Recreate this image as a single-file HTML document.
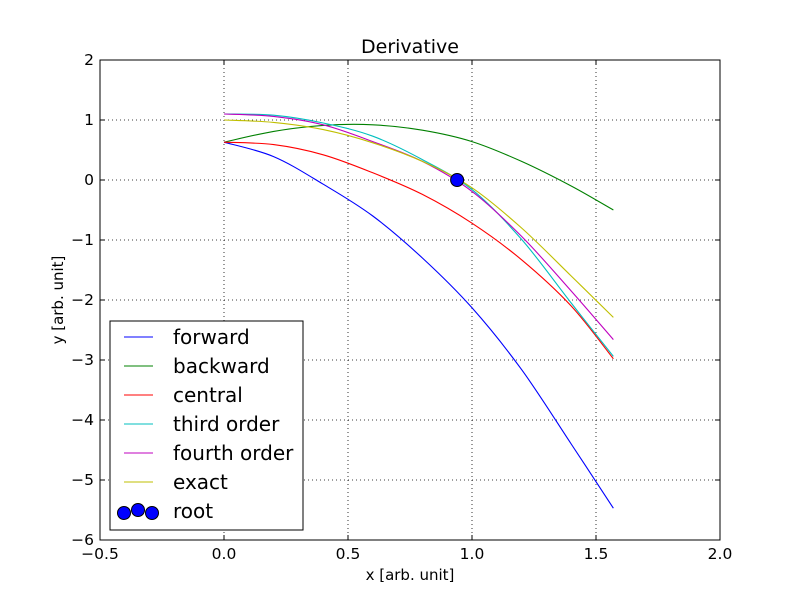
<!DOCTYPE html>
<html><head><meta charset="utf-8"><style>
body{margin:0;background:#fff}
svg text{font-family:"DejaVu Sans","Liberation Sans",sans-serif}
</style></head><body>
<svg id="chart" width="800" height="600" viewBox="0 0 800 600">
<rect width="800" height="600" fill="#fff"/>
<g id="grid"></g>
<g id="series"></g>
<rect x="100" y="60" width="620" height="480" fill="none" stroke="#000" stroke-width="1"/>
<g id="ticks"></g>
<text x="410" y="53" font-size="19" text-anchor="middle">Derivative</text>
<text x="410" y="580" font-size="15" text-anchor="middle">x [arb. unit]</text>
<text x="63" y="300" font-size="15" text-anchor="middle" transform="rotate(-90 63 300)">y [arb. unit]</text>
<g id="legend"></g>
</svg>
<script>
const xs = [0, 0.2, 0.4, 0.6, 0.8, 1.0, 1.2, 1.4, 1.57];
const forward = [0.63, 0.39, -0.07, -0.6, -1.3, -2.13, -3.16, -4.4, -5.47];
const backward = [0.63, 0.81, 0.91, 0.92, 0.83, 0.64, 0.31, -0.1, -0.5];
const central = [0.63, 0.59, 0.42, 0.12, -0.24, -0.72, -1.33, -2.1, -2.98];
const third = [1.1, 1.08, 0.95, 0.73, 0.34, -0.16, -0.99, -2.05, -2.94];
const fourth = [1.1, 1.06, 0.92, 0.64, 0.31, -0.19, -0.94, -1.85, -2.66];
const exact = [1.0, 0.96, 0.84, 0.62, 0.31, -0.13, -0.8, -1.6, -2.29];
const rootX = [0.94];
const rootY = [0.0];
const xTicks = [-0.5, 0.0, 0.5, 1.0, 1.5, 2.0];
const xTickLabels = ["−0.5", "0.0", "0.5", "1.0", "1.5", "2.0"];
const yTicks = [-6, -5, -4, -3, -2, -1, 0, 1, 2];
const yTickLabels = ["−6", "−5", "−4", "−3", "−2", "−1", "0", "1", "2"];
const seriesNames = ["forward", "backward", "central", "third order", "fourth order", "exact"];
const seriesColors = ["#0000ff", "#008000", "#ff0000", "#00bfbf", "#bf00bf", "#bfbf00"];
const seriesData = [forward, backward, central, third, fourth, exact];

const NS = "http://www.w3.org/2000/svg";
const X = v => 100 + (v + 0.5) / 2.5 * 620;
const Y = v => 540 - (v + 6) / 8 * 480;
function mk(tag, attrs, parent) { const e = document.createElementNS(NS, tag); for (const k in attrs) e.setAttribute(k, attrs[k]); parent.appendChild(e); return e; }
const grid = document.getElementById('grid'), ticks = document.getElementById('ticks'), ser = document.getElementById('series'), leg = document.getElementById('legend');

xTicks.forEach((t, i) => {
  const x = X(t);
  if (i > 0 && i < xTicks.length - 1) { const g = mk('line', {x1: x, x2: x, y1: 60, y2: 540, stroke: '#000', 'stroke-dasharray': '1,3', 'stroke-width': 0.8}, grid);
      }
  mk('line', {x1: x, x2: x, y1: 540, y2: 535, stroke: '#000'}, ticks);
  mk('line', {x1: x, x2: x, y1: 60, y2: 65, stroke: '#000'}, ticks);
  const tx = mk('text', {x: x, y: 559, 'font-size': 15.5, 'text-anchor': 'middle'}, ticks);
  tx.textContent = xTickLabels[i];
  
  
});
yTicks.forEach((t, i) => {
  const y = Y(t);
  if (i > 0 && i < yTicks.length - 1) { const g = mk('line', {x1: 100, x2: 720, y1: y, y2: y, stroke: '#000', 'stroke-dasharray': '1,3', 'stroke-width': 0.8}, grid);
      }
  mk('line', {x1: 100, x2: 105, y1: y, y2: y, stroke: '#000'}, ticks);
  mk('line', {x1: 720, x2: 715, y1: y, y2: y, stroke: '#000'}, ticks);
  const tx = mk('text', {x: 94, y: y + 5, 'font-size': 15.5, 'text-anchor': 'end'}, ticks);
  tx.textContent = yTickLabels[i];
  
  
});

function smoothPath(px, py) {
  let d = `M${px[0]},${py[0]}`;
  for (let i = 0; i < px.length - 1; i++) {
    const p0 = i > 0 ? i - 1 : i, p3 = i + 2 < px.length ? i + 2 : i + 1;
    const c1x = px[i] + (px[i+1] - px[p0]) / 6, c1y = py[i] + (py[i+1] - py[p0]) / 6;
    const c2x = px[i+1] - (px[p3] - px[i]) / 6, c2y = py[i+1] - (py[p3] - py[i]) / 6;
    d += ` C${c1x},${c1y} ${c2x},${c2y} ${px[i+1]},${py[i+1]}`;
  }
  return d;
}
seriesData.forEach((arr, k) => {
  const p = mk('path', {d: smoothPath(xs.map(X), arr.map(Y)), fill: 'none', stroke: seriesColors[k], 'stroke-width': 1.1}, ser);
  
  
});
rootX.forEach((v, i) => {
  const c = mk('circle', {cx: X(v), cy: Y(rootY[i]), r: 6.5, fill: '#0000ff', stroke: '#000', 'stroke-width': 1}, ser);
  
  
});

const box = mk('rect', {x: 110, y: 321, width: 193, height: 209, fill: '#fff', stroke: '#000', 'stroke-width': 1}, leg);


const names = seriesNames.concat(['root']);
names.forEach((n, k) => {
  const y = 337 + k * 29;
  const g = mk('g', {}, leg);
  
  
  if (k < seriesNames.length) mk('line', {x1: 124, x2: 153, y1: y, y2: y, stroke: seriesColors[k], 'stroke-width': 1.1}, g);
  else { [[124, 513], [138, 510], [152, 513]].forEach(c => mk('circle', {cx: c[0], cy: c[1], r: 6.5, fill: '#0000ff', stroke: '#000'}, g)); }
  const t = mk('text', {x: 173, y: y + 7, 'font-size': 20}, g);
  t.textContent = n;
});
</script>
</body></html>
